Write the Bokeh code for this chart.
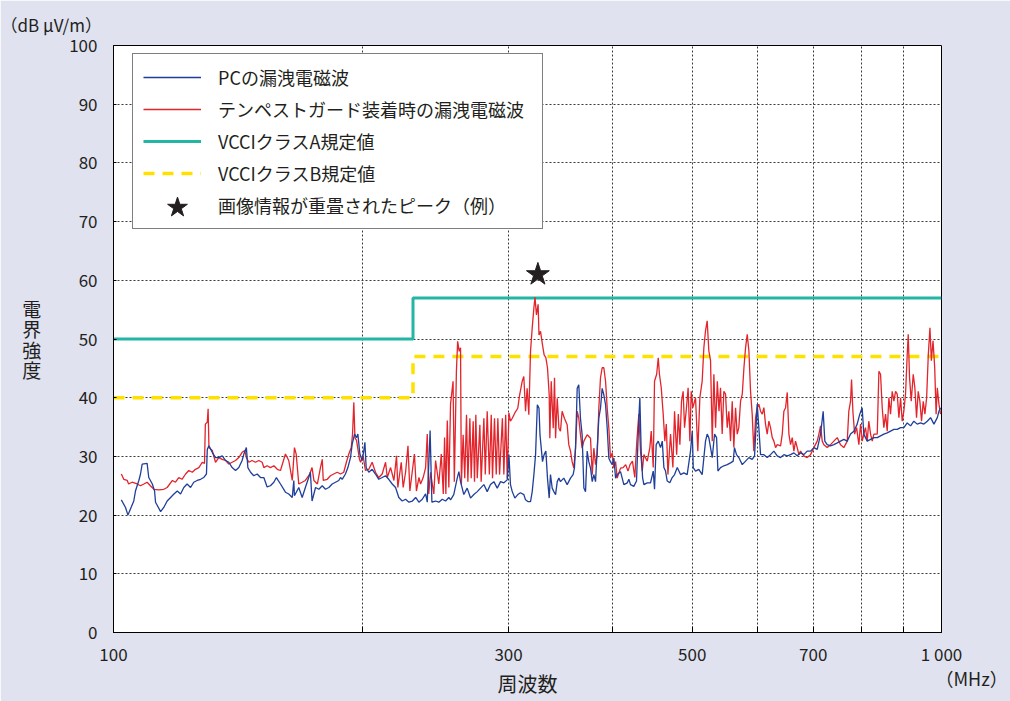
from bokeh.plotting import figure
from bokeh.models import Legend, LegendItem, FixedTicker, Range1d, LinearAxis
from bokeh.embed import file_html
from bokeh.resources import INLINE

# ---------------- data ----------------
# PC leakage (blue), frequency in MHz / level in dB uV/m
blue_freq = [
    102.2, 103.4, 104.1, 104.8, 105.8, 106.3, 107.3, 107.8, 108.3, 109.8,
    110.3, 111.4, 112.1, 112.4, 114.0, 115.0, 116.1, 117.2, 118.3, 119.4,
    120.5, 121.6, 122.7, 123.9, 125.0, 126.2, 127.4, 128.5, 129.5, 129.8,
    130.4, 131.6, 132.8, 134.0, 135.3, 136.6, 137.8, 139.1, 140.4, 141.7,
    143.0, 143.7, 144.7, 145.3, 146.4, 147.7, 149.1, 150.5, 151.9, 153.3,
    154.7, 156.2, 157.3, 159.1,
    161.3, 162.8, 164.4, 165.1, 165.4, 167.4, 169.0, 170.5, 172.1, 172.9,
    173.7, 175.4, 177.0, 178.7, 180.3, 182.0, 183.7, 185.4, 187.1, 188.0,
    188.9, 190.6, 191.9, 193.3, 194.2, 195.5, 196.6, 197.3, 198.4, 199.7,
    200.6, 201.2, 201.9, 203.4, 205.3, 207.2, 209.1, 211.1, 213.1, 215.0,
    217.1, 219.1, 221.1, 223.2, 225.3, 227.4, 229.6, 231.7, 233.8, 236.0,
    238.2, 239.3, 241.2, 242.4, 244.9, 247.1, 249.5, 251.8, 254.1,
    255.3, 257.6, 260.1, 261.3, 262.5, 264.9, 267.4, 269.9, 272.4, 275.0,
    277.5, 280.1, 282.7, 285.3, 288.0, 290.7, 293.4, 296.1, 298.9, 300.3,
    301.6, 303.1, 305.3, 307.8, 310.1, 313.0, 314.5, 316.5, 318.9, 320.4,
    321.9, 323.4, 325.0, 326.5, 327.4, 329.7, 331.2, 332.8, 334.3, 335.9,
    337.1, 338.7, 340.3, 341.9, 343.5, 345.1, 346.6, 349.8, 353.1, 356.4,
    359.0, 360.3, 361.4, 363.1, 364.7, 366.4, 368.1, 369.9, 371.6, 373.3,
    375.0, 376.8, 378.6, 380.3, 382.1, 383.9, 385.6, 387.4, 389.2, 391.0,
    392.9, 394.7, 396.5, 398.3, 400.2, 402.1, 404.0, 405.8, 409.6,
    413.4, 417.4, 419.2, 421.1, 425.0, 428.2, 431.0, 432.2, 433.8, 435.5,
    437.1, 441.2, 445.2, 448.6, 450.2, 452.3, 454.9, 457.8, 460.0, 462.1,
    464.2, 466.4, 469.8, 472.9, 476.0, 479.6, 484.0, 488.4, 493.0, 497.6,
    500.0, 501.4, 504.6, 509.2, 514.0, 518.8, 521.2, 523.6, 526.1, 528.6,
    532.0, 535.0, 537.0, 540.9, 545.9, 551.1, 556.2, 560.3, 562.3, 565.5,
    569.1, 574.6, 579.9, 585.3, 590.7, 594.6, 599.0, 601.7, 604.6, 610.2,
    615.9, 621.6,
    627.4, 633.3, 639.2, 645.1, 651.2, 657.2, 663.3, 669.5, 675.7, 681.9,
    688.3, 694.8, 701.2, 707.8, 714.4, 719.6, 722.9, 727.7, 734.5, 741.3,
    748.3, 755.2, 762.2, 769.4, 776.5, 783.7, 791.0, 796.7, 802.0, 805.7,
    813.4, 821.0, 828.6, 836.4, 844.1, 851.9, 859.9, 867.9, 876.0, 884.2,
    892.4, 900.6, 909.1, 917.6, 926.0, 934.7, 943.4, 952.2, 961.2, 970.1,
    979.2, 988.4, 993.0, 997.2,
]
blue_level = [
    22.6, 21.3, 20.0, 21.0, 22.4, 24.1, 25.9, 27.0, 28.7, 28.8,
    26.4, 25.3, 24.1, 22.2, 20.6, 21.3, 22.4, 23.0, 23.6, 24.1,
    23.6, 24.7, 25.3, 24.7, 25.6, 25.9, 26.1, 26.4, 27.0, 31.2,
    31.8, 30.7, 29.8, 29.8, 30.1, 29.3, 29.0, 28.1, 27.6, 28.1,
    29.3, 30.4, 31.5, 28.1, 27.3, 26.7, 27.0, 26.4, 26.4, 24.8,
    25.0, 25.6, 26.4, 25.3,
    23.9, 23.6, 23.0, 25.9, 23.3, 24.7, 23.0, 24.7, 26.4, 27.3,
    22.4, 24.7, 24.4, 25.0, 24.4, 24.7, 25.3, 25.6, 25.9, 26.4,
    26.1, 27.0, 28.1, 29.8, 32.1, 33.8, 33.2, 33.8, 30.4, 29.3,
    31.0, 32.4, 28.1, 27.3, 27.8, 27.0, 26.1, 26.4, 26.7, 26.1,
    25.3, 24.7, 23.0, 22.4, 22.7, 22.2, 22.4, 23.0, 22.2, 22.7,
    23.6, 22.2, 34.4, 22.2, 22.4, 22.2, 22.7, 22.4, 23.0,
    22.6, 23.5, 26.3, 27.4, 25.7, 23.5, 24.6, 22.9, 23.5, 24.0,
    24.6, 25.2, 24.0, 25.2, 25.7, 24.6, 25.7, 25.5, 26.0, 30.3,
    25.2, 24.0, 22.9, 23.5, 23.8, 23.5, 22.6, 22.3, 22.3, 24.0,
    26.9, 30.3, 38.8, 38.2, 33.7, 29.1, 30.3, 30.9, 26.3, 22.9,
    26.9, 24.6, 24.0, 23.5, 25.7, 26.3, 25.7, 26.3, 25.2, 26.3,
    26.9, 28.0, 31.4, 41.6, 42.2, 36.5, 33.7, 24.6, 24.0, 30.9,
    29.1, 28.0, 25.7, 26.9, 25.7, 31.4, 36.5, 38.2, 41.6, 40.5,
    38.8, 34.8, 29.7, 29.1, 28.6, 29.7, 26.3, 26.9, 27.4,
    25.2, 25.5, 26.1, 25.2, 24.9, 25.8, 36.6, 40.0, 30.9, 26.4,
    25.2, 25.5, 25.5, 27.5, 24.4, 32.0, 32.6, 31.5, 32.6, 28.1,
    27.5, 25.8, 25.5, 26.4, 26.9, 28.1, 26.9, 27.2, 26.9, 30.9,
    34.3, 28.1, 27.5, 27.8, 26.9, 32.6, 33.8, 33.2, 31.5, 29.8,
    33.8, 33.2, 27.5, 28.1, 28.4, 28.6, 28.9, 29.2, 31.5, 30.3,
    29.8, 28.6, 29.2, 29.8, 29.5, 30.1, 38.9, 34.9, 30.3, 30.3,
    29.8, 30.3,
    30.9, 30.1, 29.8, 30.3, 30.1, 30.3, 30.6, 30.1, 30.6, 30.3,
    30.9, 30.9, 31.5, 31.2, 33.8, 37.7, 32.6, 32.0, 31.8, 32.0,
    32.3, 32.6, 32.9, 32.6, 33.8, 34.3, 35.5, 37.2, 38.3, 33.8,
    32.6, 32.9, 33.2, 33.2, 33.5, 33.8, 34.0, 34.3, 34.6, 34.6,
    34.9, 34.9, 35.7, 35.2, 36.0, 35.5, 35.7, 35.5, 36.0, 36.6,
    35.5, 36.6, 37.7, 38.3,
]

# With TEMPEST guard fitted (red)
red_freq = [
    102.2, 102.9, 103.9, 104.3, 105.3, 106.8, 107.8, 108.8, 109.8, 110.8,
    111.9, 113.4, 115.0, 116.1, 117.8, 118.8, 119.9, 121.0, 122.2, 123.3,
    124.5, 125.6, 126.8, 128.0, 128.8, 129.1, 129.8, 130.1, 130.4, 131.6,
    132.8, 134.0, 135.3, 136.6, 137.8, 139.1, 140.4, 141.7, 143.0, 144.1,
    144.7, 145.7, 147.0, 148.4, 149.8, 151.2, 151.9, 153.3, 154.7, 156.2,
    157.7, 159.1,
    161.3, 162.8, 164.4, 165.4, 166.2, 167.4, 169.0, 170.5, 172.6, 173.7,
    174.6, 176.3, 177.8, 178.7, 179.2, 181.2, 182.8, 184.5, 186.3, 188.0,
    189.7, 191.1, 192.4, 193.7, 194.4, 195.1, 195.7, 196.6, 198.2, 198.8,
    200.2, 201.5, 203.4, 205.3, 207.2, 209.1, 211.1, 213.1, 214.1, 216.1,
    218.1, 219.7, 220.5, 222.6, 223.8, 225.3, 226.8, 228.0, 229.6, 230.9,
    232.2, 233.8, 234.9, 236.6, 238.2, 239.3, 240.3, 241.5, 243.7, 244.9,
    247.1, 248.8, 250.2, 251.1, 252.0, 253.0, 254.1, 255.3,
    257.1, 258.0, 259.5, 260.4, 261.5, 262.5, 263.1, 264.4, 265.6, 266.9,
    267.9, 269.4, 270.4, 271.9, 272.9, 273.9, 275.0, 277.0, 278.0, 280.1,
    281.2, 282.7, 284.4, 285.9, 286.9, 288.5, 289.9, 291.2, 292.6, 294.9,
    296.1, 297.6, 298.9, 300.3, 301.6, 303.1, 305.3, 307.8, 309.4, 311.6,
    313.0, 314.5, 315.9, 317.4, 318.9, 320.4, 321.9, 322.9, 324.2, 325.7,
    326.5, 327.9, 329.7, 331.2, 332.8, 334.3, 335.9, 336.5, 337.8, 339.7,
    340.9, 341.9, 343.5, 345.1, 346.6, 348.2, 350.4, 353.1, 354.7, 356.4,
    358.0, 359.7, 361.4, 363.1, 364.7, 366.4, 368.1, 369.9, 373.3, 376.8,
    378.6, 380.3, 382.1, 383.9, 385.6, 387.4, 389.2, 391.0, 392.9, 394.7,
    396.5, 398.3, 400.2, 402.1, 404.0, 405.8, 409.6,
    412.6, 415.5, 418.2, 420.6, 423.4, 426.2, 428.6, 431.0, 433.0, 435.1,
    437.1, 441.2, 444.4, 446.1, 448.6, 450.2, 452.9, 454.9, 456.4, 458.7,
    461.2, 463.3, 465.2, 467.3, 470.7, 473.8, 476.0, 478.8, 481.0, 483.1,
    485.3, 487.5, 489.4, 491.6, 494.3, 496.7, 498.6, 500.9, 504.6, 507.8,
    510.7, 514.0, 516.4, 518.8, 521.2, 523.6, 526.1, 528.6, 531.0, 533.5,
    536.1, 538.6, 540.9, 543.4, 545.9, 548.5, 551.1, 553.6, 556.2, 558.8,
    561.3, 564.0, 566.6, 569.1, 571.9, 574.6, 577.3, 579.9, 582.6, 585.3,
    588.0, 590.7, 593.4, 596.3, 599.0, 601.7, 604.6, 607.4, 610.2, 613.0,
    615.9, 618.8, 621.6, 624.6, 627.4, 630.4, 633.3,
    639.2, 642.2, 645.1, 648.2, 651.2, 654.2, 657.2, 660.3, 663.3, 666.4,
    669.5, 672.6, 675.7, 681.9, 688.3, 694.8, 701.2, 707.8, 711.1, 714.4,
    717.7, 721.0, 727.7, 734.5, 741.3, 748.3, 755.2, 762.2, 769.4, 772.8,
    776.5, 778.7, 781.6, 785.4, 789.7, 794.7, 798.4, 802.2, 805.7, 809.5,
    813.4, 816.9, 821.0, 824.8, 828.6, 836.4, 840.2, 844.1, 848.0, 851.9,
    855.9, 859.9, 863.9, 867.9, 871.9, 876.0, 880.1, 884.2, 888.3, 892.4,
    896.5, 900.6, 904.8, 909.1, 911.6, 915.0, 919.3, 924.4, 928.6, 932.9,
    937.3, 941.6, 946.0, 950.5, 954.9, 959.5, 964.0, 968.4, 972.2, 976.7,
    981.3, 985.1, 988.4, 993.0, 997.2,
]
red_level = [
    27.0, 26.1, 25.9, 25.3, 25.6, 25.3, 25.0, 25.3, 25.6, 25.0,
    24.4, 24.3, 24.4, 24.7, 25.9, 25.6, 26.4, 26.1, 27.0, 27.6,
    27.3, 27.8, 28.1, 29.0, 28.8, 35.5, 35.8, 38.1, 31.5, 31.0,
    29.0, 29.8, 29.5, 29.3, 28.7, 29.0, 29.3, 29.8, 30.7, 31.0,
    29.8, 29.0, 29.3, 29.0, 29.3, 29.0, 28.1, 28.4, 28.1, 28.4,
    27.8, 27.6,
    30.4, 29.3, 25.9, 31.5, 30.4, 25.3, 25.6, 25.9, 27.0, 28.1,
    25.9, 25.3, 28.1, 29.5, 25.9, 26.1, 26.7, 27.0, 27.3, 27.0,
    27.3, 29.0, 30.4, 31.5, 33.8, 39.2, 33.2, 32.7, 29.5, 29.0,
    30.1, 27.6, 27.8, 29.0, 27.3, 26.4, 27.0, 29.0, 26.4, 28.1,
    25.9, 30.1, 24.7, 29.0, 24.7, 27.3, 31.8, 24.1, 27.6, 30.4,
    24.1, 26.4, 25.3, 26.4, 28.1, 33.8, 23.6, 27.3, 23.6, 29.3,
    25.3, 30.4, 23.6, 33.2, 23.6, 36.1, 24.7, 38.9,
    42.8, 25.7, 44.5, 49.6, 47.9, 48.5, 25.2, 33.7, 26.3, 37.1,
    25.7, 36.5, 26.3, 36.0, 25.7, 37.1, 26.3, 35.4, 25.7, 36.5,
    26.9, 37.7, 26.9, 37.1, 26.3, 36.5, 26.9, 36.5, 26.9, 36.5,
    26.9, 37.1, 26.3, 37.4, 36.0, 36.5, 37.4, 38.2, 40.5, 42.8,
    43.6, 37.7, 41.6, 37.1, 47.9, 51.9, 55.3, 57.1, 54.1, 55.9,
    50.7, 51.3, 49.0, 47.3, 46.8, 45.1, 40.5, 33.1, 42.8, 34.8,
    43.4, 33.1, 39.9, 34.8, 34.3, 37.7, 36.5, 35.4, 32.0, 30.9,
    29.1, 28.0, 31.4, 37.7, 36.5, 33.7, 31.4, 32.6, 33.7, 33.1,
    26.9, 31.4, 28.6, 30.3, 38.2, 43.4, 45.1, 45.1, 42.8, 38.2,
    34.8, 29.7, 30.6, 28.0, 29.1, 26.3, 28.0,
    28.1, 28.6, 27.5, 28.6, 29.2, 26.4, 32.6, 37.2, 30.9, 27.5,
    30.3, 29.2, 31.5, 34.3, 28.1, 42.8, 44.0, 46.8, 44.0, 41.7,
    37.2, 32.6, 35.5, 26.9, 33.8, 28.1, 37.7, 30.3, 37.2, 32.0,
    39.4, 41.1, 34.9, 37.7, 41.7, 32.6, 41.1, 38.3, 40.0, 30.9,
    40.0, 42.8, 48.5, 51.4, 53.1, 48.0, 46.3, 32.6, 44.0, 34.9,
    42.8, 37.7, 41.7, 33.8, 41.1, 40.6, 34.9, 37.7, 32.6, 39.4,
    31.5, 38.3, 33.8, 34.9, 39.4, 40.6, 45.1, 48.5, 50.8, 48.0,
    41.1, 37.2, 30.9, 36.6, 38.3, 38.9, 37.7, 37.2, 38.3, 35.5,
    33.8, 36.0, 34.9, 33.2, 32.6, 31.5, 32.0,
    31.8, 33.8, 37.7, 38.3, 40.9, 33.8, 32.0, 33.2, 30.9, 32.6,
    31.5, 30.3, 30.9, 30.1, 29.8, 30.3, 31.5, 32.6, 33.8, 35.2,
    32.6, 32.0, 31.5, 32.0, 32.6, 33.2, 32.0, 31.5, 32.6, 37.7,
    39.4, 43.1, 37.7, 33.8, 34.9, 32.0, 35.5, 32.6, 33.8, 34.9,
    32.6, 36.0, 33.8, 32.6, 33.8, 33.8, 44.5, 44.0, 38.3, 34.9,
    37.2, 34.3, 40.0, 37.2, 41.1, 39.4, 41.1, 40.6, 36.6, 40.0,
    36.0, 37.7, 40.6, 47.4, 50.8, 43.4, 39.4, 44.0, 41.7, 36.6,
    41.1, 39.4, 36.0, 39.4, 37.2, 40.0, 47.4, 51.9, 46.3, 49.7,
    45.1, 37.2, 41.7, 38.9, 37.2,
]

# VCCI limits
class_a_freq = [100, 230, 230, 1000]
class_a_level = [50, 50, 57, 57]
class_b_freq = [100, 230, 230, 1000]
class_b_level = [40, 40, 47, 47]

# example peak with superimposed image info
peak_freq = [325.5]
peak_level = [61.0]

x_ticks = [100, 200, 300, 400, 500, 600, 700, 800, 900, 1000]
x_tick_labels = ["100", "", "300", "", "500", "", "700", "", "", "1 000"]
y_ticks = [0, 10, 20, 30, 40, 50, 60, 70, 80, 90, 100]

y_unit = "（dB μV/m）"
y_title = "電界強度"
x_title = "周波数"
x_unit = "（MHz）"

legend_labels = ["PCの漏洩電磁波", "テンペストガード装着時の漏洩電磁波",
                 "VCCIクラスA規定値", "VCCIクラスB規定値", "画像情報が重畳されたピーク（例）"]

assert len(blue_freq) == len(blue_level), (len(blue_freq), len(blue_level))
assert len(red_freq) == len(red_level), (len(red_freq), len(red_level))

# ---------------- style ----------------
FONT = "Noto Sans CJK JP"
TXT = "#231f20"
BG = "#e0e2f0"
BLUE = "#1f3f9a"
RED = "#e3242b"
TEAL = "#25b5a5"
YELLOW = "#ffe100"

p = figure(width=1010, height=701, x_axis_type="log",
           x_range=Range1d(100, 1000), y_range=Range1d(0, 100),
           output_backend="svg", toolbar_location=None,
           min_border_left=113, min_border_right=69,
           min_border_top=45, min_border_bottom=69)
p.background_fill_color = "white"
p.border_fill_color = BG
p.outline_line_color = "black"
p.outline_line_width = 1

# title = unit of the y axis, top-left
p.title.text = y_unit
p.title.align = "left"
p.title.offset = -113
p.title.text_font = FONT
p.title.text_font_size = "17px"
p.title.text_font_style = "normal"
p.title.text_color = TXT
p.title.standoff = 18

# axes
p.xaxis.ticker = FixedTicker(ticks=x_ticks, minor_ticks=[])
p.xaxis.major_label_overrides = {t: l for t, l in zip(x_ticks, x_tick_labels)}
p.yaxis.ticker = FixedTicker(ticks=y_ticks, minor_ticks=[])
for ax in (p.xaxis[0], p.yaxis[0]):
    ax.axis_line_color = "black"
    ax.major_tick_line_color = "black"
    ax.major_tick_out = 0
    ax.minor_tick_line_color = None
    ax.major_label_text_font = FONT
    ax.major_label_text_font_size = "17px"
    ax.major_label_text_color = TXT
    ax.axis_label_text_font = FONT
    ax.axis_label_text_font_style = "normal"
    ax.axis_label_text_color = TXT
p.xaxis.major_tick_in = 6
p.yaxis.major_tick_in = 3
p.xaxis.major_label_standoff = 8
p.yaxis.major_label_standoff = 16

p.xaxis.axis_label = x_title
p.xaxis.axis_label_text_font_size = "20px"
p.xaxis.axis_label_standoff = 0

p.yaxis.axis_label = "\n".join(y_title)
p.yaxis.axis_label_orientation = "horizontal"
p.yaxis.axis_label_text_font_size = "19px"
p.yaxis.axis_label_text_line_height = 0.76
p.yaxis.axis_label_standoff = 25

# right axis only carries the frequency unit near the bottom-right corner
unit_axis = LinearAxis(ticker=FixedTicker(ticks=[0], minor_ticks=[]),
                       major_label_overrides={0: "\n\n\n\n" + x_unit},
                       axis_line_color=None, major_tick_line_color=None,
                       minor_tick_line_color=None, major_tick_out=0, major_tick_in=0,
                       major_label_standoff=-6,
                       major_label_text_font=FONT, major_label_text_font_size="18px",
                       major_label_text_color=TXT, major_label_text_line_height=0.87)
p.add_layout(unit_axis, "right")

# grid
p.xgrid.ticker = FixedTicker(ticks=x_ticks[1:-1])
p.ygrid.ticker = FixedTicker(ticks=y_ticks[1:-1])
for g in (p.xgrid[0], p.ygrid[0]):
    g.grid_line_color = "#3a3a3a"
    g.grid_line_dash = "2 2"
    g.grid_line_width = 1

# series
r_a = p.line(class_a_freq, class_a_level, line_color=TEAL, line_width=3)
r_b = p.line(class_b_freq, class_b_level, line_color=YELLOW, line_width=3.5, line_dash="11 8")
r_red = p.line(red_freq, red_level, line_color=RED, line_width=1.3)
r_blue = p.line(blue_freq, blue_level, line_color=BLUE, line_width=1.3)
r_star = p.scatter(peak_freq, peak_level, marker="star", size=24,
                   fill_color=TXT, line_color=TXT)
r_star_blank = p.scatter([], [], marker="star", size=1, fill_color=None, line_color=None)

legend = Legend(items=[
    LegendItem(label=legend_labels[0], renderers=[r_blue]),
    LegendItem(label=legend_labels[1], renderers=[r_red]),
    LegendItem(label=legend_labels[2], renderers=[r_a]),
    LegendItem(label=legend_labels[3], renderers=[r_b]),
    LegendItem(label=legend_labels[4], renderers=[r_star_blank]),
], location=(19, 403))
legend.label_text_font = FONT
legend.label_text_font_size = "18px"
legend.label_text_color = TXT
legend.glyph_width = 58
legend.glyph_height = 20
legend.label_height = 20
legend.spacing = 6
legend.padding = 10
legend.label_standoff = 17
legend.label_width = 314
legend.margin = 0
legend.border_line_color = "black"
legend.border_line_width = 1
legend.background_fill_color = "white"
legend.background_fill_alpha = 1.0
p.add_layout(legend)

# second, borderless legend that only carries the large star symbol
star_legend = Legend(items=[LegendItem(label=" ", renderers=[r_star])],
                     location=(36, 399))
star_legend.glyph_width = 56
star_legend.glyph_height = 52
star_legend.label_height = 10
star_legend.label_width = 0
star_legend.label_standoff = 0
star_legend.padding = 0
star_legend.margin = 0
star_legend.spacing = 0
star_legend.border_line_color = None
star_legend.background_fill_alpha = 0.0
star_legend.label_text_font_size = "6px"
p.add_layout(star_legend)

html = file_html(p, INLINE)
html = html.replace("<body>", '<body style="background-color:%s;">' % BG, 1)
open("out.html", "w").write(html)
